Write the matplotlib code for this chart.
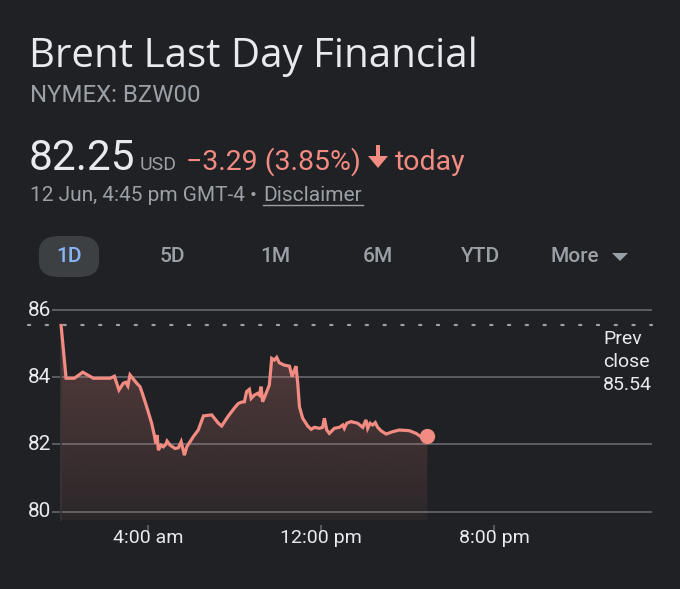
import matplotlib
matplotlib.use("Agg")
import matplotlib.pyplot as plt
import numpy as np
from matplotlib.patches import FancyBboxPatch, Polygon
from matplotlib.colors import to_rgb
from matplotlib.transforms import blended_transform_factory

# ---------------- data ----------------
hours = [0.0, 0.23, 0.61, 1.0, 1.49, 2.26, 2.46, 2.67, 2.87, 2.98, 3.08, 3.18, 3.49, 3.64,
         3.75, 3.95, 4.18, 4.3, 4.37, 4.43, 4.49, 4.61, 4.72, 4.83, 4.89, 5.03, 5.26, 5.41,
         5.54, 5.69, 5.8, 6.1, 6.33, 6.57, 6.95, 7.26, 7.41, 7.72, 8.03, 8.18, 8.33, 8.46,
         8.56, 8.69, 8.77, 8.92, 9.07, 9.15, 9.23, 9.30, 9.46, 9.61, 9.72, 9.84, 9.95, 10.07,
         10.3, 10.54, 10.66, 10.77, 10.84, 10.92, 11.0, 11.15, 11.38, 11.54, 11.69, 11.92,
         12.07, 12.15, 12.26, 12.38, 12.61, 12.84, 13.0, 13.07, 13.18, 13.38, 13.69, 13.92,
         14.07, 14.15, 14.26, 14.38, 14.5, 14.61, 14.76, 15.0, 15.3, 15.61, 16.07, 16.38,
         16.61, 16.9]
prices = [85.54, 83.97, 83.97, 84.15, 83.97, 83.97, 84.03, 83.62, 83.82, 83.85, 83.74, 84.07,
          83.82, 83.72, 83.52, 83.12, 82.63, 82.28, 82.03, 82.28, 81.83, 81.98, 81.93, 82.0,
          82.1, 81.98, 81.88, 81.9, 82.08, 81.68, 81.93, 82.23, 82.43, 82.85, 82.88, 82.63,
          82.55, 82.85, 83.11, 83.22, 83.26, 83.27, 83.57, 83.64, 83.37, 83.47, 83.52, 83.47,
          83.72, 83.27, 83.52, 83.77, 84.56, 84.51, 84.59, 84.43, 84.36, 84.33, 84.02, 84.21,
          84.33, 83.82, 83.12, 82.78, 82.55, 82.45, 82.51, 82.48, 82.51, 82.78, 82.43, 82.33,
          82.48, 82.51, 82.58, 82.48, 82.63, 82.68, 82.63, 82.51, 82.73, 82.48, 82.63, 82.58,
          82.65, 82.51, 82.41, 82.31, 82.38, 82.43, 82.41, 82.33, 82.23, 82.25]
prev_close = 85.54
y_ticks = [80, 82, 84, 86]
x_ticks = [4, 12, 20]
x_labels = ["4:00 am", "12:00 pm", "8:00 pm"]
tabs = ["1D", "5D", "1M", "6M", "YTD", "More"]

title = "Brent Last Day Financial"
ticker = "NYMEX: BZW00"
price_txt = "82.25"
change_txt = "\u22123.29 (3.85%)"
date_txt = "12 Jun, 4:45 pm GMT-4 \u2022 "

# ---------------- style ----------------
BG = "#202124"
WHITE = "#e8eaed"
GRAY = "#9aa0a6"
GRID = "#5f6368"
RED = "#f28b82"
BLUE = "#8ab4f8"

W, H = 680, 589
fig = plt.figure(figsize=(W / 100, H / 100), dpi=100, facecolor=BG)

def fx(x):
    return x / W

def fy(y):
    return 1 - y / H

# ---------------- header ----------------
fig.text(fx(29), fy(67), title, fontsize=29, color=WHITE, family="Open Sans", va="baseline")
fig.text(fx(30), fy(102), ticker, fontsize=17.3, color=GRAY, family="Roboto", va="baseline")
fig.text(fx(29), fy(170), price_txt, fontsize=30.5, color=WHITE, family="Roboto", va="baseline")
fig.text(fx(140), fy(170), "USD", fontsize=14, color=GRAY, family="Roboto", va="baseline")
fig.text(fx(186), fy(170), change_txt, fontsize=20.5, color=RED, family="Roboto", va="baseline")
# down arrow glyph drawn as a shape
arrow_pts = [(376, 145), (380, 145), (380, 156), (388, 156), (378, 168), (368, 156),
             (376, 156)]
fig.add_artist(Polygon([[fx(a), fy(b)] for a, b in arrow_pts], closed=True,
                       transform=fig.transFigure, facecolor=RED, edgecolor="none"))
fig.text(fx(395), fy(170), "today", fontsize=20.5, color=RED, family="Roboto", va="baseline")
fig.text(fx(30), fy(201), date_txt, fontsize=15, color=GRAY, family="Roboto", va="baseline")
fig.text(fx(263), fy(201), "Disclaimer", fontsize=15, color=GRAY, family="Roboto",
         va="baseline")
fig.add_artist(plt.Line2D([fx(263), fx(363)], [fy(205), fy(205)], color=GRAY, lw=1.0))

# tabs
pill = FancyBboxPatch((fx(39), fy(277)), fx(60), (41 / H), transform=fig.transFigure,
                      boxstyle="round,pad=0,rounding_size=0.03", facecolor="#3c4043",
                      edgecolor="none", mutation_aspect=H / W)
fig.add_artist(pill)
tab_x = [69, 172, 275, 378, 481, 575]
for i, (lab, x) in enumerate(zip(tabs, tab_x)):
    fig.text(fx(x), fy(257), lab, fontsize=15, color=BLUE if i == 0 else GRAY,
             family="Roboto", fontweight="medium", ha="center", va="center")
fig.add_artist(Polygon([[fx(612), fy(253)], [fx(628), fy(253)], [fx(620), fy(261)]],
                       closed=True, transform=fig.transFigure, facecolor=GRAY, edgecolor="none"))

# ---------------- chart ----------------
x0, x1 = -0.42, 27.27
y0, y1 = 79.6, 86.5
ax_left, ax_right = 52, 652
ax_top = 310 - (y1 - 86) * 33.6
ax_bot = 511.7 + (80 - y0) * 33.6
ax = fig.add_axes([fx(ax_left), fy(ax_bot), (ax_right - ax_left) / W, (ax_bot - ax_top) / H])
ax.set_facecolor(BG)
ax.set_xlim(x0, x1)
ax.set_ylim(y0, y1)
for s in ax.spines.values():
    s.set_visible(False)

# gridlines
for yv in y_ticks:
    xe = 24.85 if yv == 84 else x1
    ax.plot([x0, xe], [yv, yv], color=GRID, lw=1.3, zorder=1, solid_capstyle="butt")

# prev close dotted line
ax.plot([-1.52, x1], [prev_close, prev_close], color=GRAY, lw=1.6,
        linestyle=(0, (1, 7)), dash_capstyle="round", clip_on=False, zorder=2)

# gradient fill under the line
hx = np.array(hours)
py = np.array(prices)
fill_bottom = 79.75
poly = Polygon(np.column_stack([np.r_[hx, hx[-1], hx[0]], np.r_[py, fill_bottom, fill_bottom]]),
               closed=True, facecolor="none", edgecolor="none", transform=ax.transData)
ax.add_patch(poly)
r, g, b = to_rgb(RED)
grad = np.zeros((256, 2, 4))
alpha = np.linspace(0.06, 0.27, 256)[:, None]
grad[..., 0] = r
grad[..., 1] = g
grad[..., 2] = b
grad[..., 3] = alpha
im = ax.imshow(grad, extent=[hx[0], hx[-1], fill_bottom, 85.6], origin="lower",
               aspect="auto", zorder=3, interpolation="bilinear")
im.set_clip_path(poly)
ax.plot([hx[0], hx[0]], [fill_bottom, prices[0]], color="#3a3536", lw=1.2, zorder=3)

# price line
ax.plot(hx, py, color=RED, lw=2.3, zorder=5, solid_joinstyle="miter")
ax.plot([hx[-1]], [py[-1]], marker="o", markersize=10, color=RED, zorder=6)

# ticks
ax.set_xticks(x_ticks)
ax.set_xticklabels(x_labels, fontsize=14, color=WHITE, family="Roboto")
ax.tick_params(axis="x", length=6.5, width=1.2, color=GRID, pad=-3.5, direction="out")
ax.xaxis.set_ticks_position("bottom")
ax.set_yticks([])
trans = blended_transform_factory(fig.transFigure, ax.transData)
for yv in y_ticks:
    ax.text(fx(28), yv, str(yv), transform=trans, fontsize=15, color=WHITE,
            family="Roboto", ha="left", va="center")

# prev close label
for i, line in enumerate(["Prev", "close", f"{prev_close:.2f}"]):
    fig.text(fx(603), fy(339 + 23 * i), line, fontsize=14, color=WHITE, family="Roboto",
             ha="left", va="center")

fig.savefig("out.png", dpi=100, facecolor=BG)
